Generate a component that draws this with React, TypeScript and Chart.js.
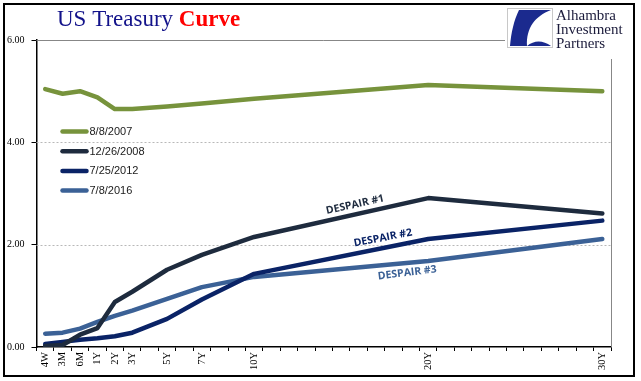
import React, { useEffect, useRef } from "react";
import { Chart, registerables } from "chart.js";

Chart.register(...registerables);

// ---- data ----
const maturities = ["4W", "3M", "6M", "1Y", "2Y", "3Y", "5Y", "7Y", "10Y", "20Y", "30Y"];
const maturitySlot = [0, 1, 2, 3, 4, 5, 7, 9, 12, 22, 32];
const slotCount = 33;

const seriesLabels = ["8/8/2007", "12/26/2008", "7/25/2012", "7/8/2016"];
const curve2007 = [5.04, 4.95, 5.0, 4.88, 4.65, 4.65, 4.7, 4.76, 4.85, 5.12, 5.0];
const curve2008 = [0.02, 0.04, 0.24, 0.37, 0.88, 1.08, 1.51, 1.8, 2.15, 2.91, 2.61];
const curve2012 = [0.06, 0.1, 0.14, 0.17, 0.21, 0.28, 0.55, 0.93, 1.43, 2.11, 2.47];
const curve2016 = [0.26, 0.28, 0.36, 0.49, 0.61, 0.71, 0.94, 1.17, 1.37, 1.68, 2.11];
const seriesColors = ["#77933C", "#1E2B3E", "#0A2366", "#3B6196"];

const yMin = 0;
const yMax = 6;
const yStep = 2;
const dashedGridValues = [2, 4];

const titleMain = "US Treasury ";
const titleAccent = "Curve";
const logoLines = ["Alhambra", "Investment", "Partners"];

const annoTexts = ["DESPAIR #1", "DESPAIR #2", "DESPAIR #3"];
const annoSlot = [17.8, 19.4, 20.8];
const annoValue = [2.78, 2.13, 1.45];
const annoAngle = [-12.5, -11, -7];
const annoSeries = [1, 2, 3];

function buildSeries(values: number[]) {
  const out: (number | null)[] = new Array(slotCount).fill(null);
  values.forEach((v, i) => {
    out[maturitySlot[i]] = v;
  });
  return out;
}

function buildLabels() {
  const out: string[] = new Array(slotCount).fill("");
  maturities.forEach((m, i) => {
    out[maturitySlot[i]] = m;
  });
  return out;
}

const decorPlugin = {
  id: "decor",
  beforeDraw(chart: any) {
    const { ctx, width, height } = chart;
    ctx.save();
    ctx.fillStyle = "#ffffff";
    ctx.fillRect(0, 0, width, height);
    ctx.restore();
  },
  beforeDatasetsDraw(chart: any) {
    const { ctx, chartArea: a, scales } = chart;
    const y = scales.y;
    ctx.save();
    ctx.lineWidth = 1;
    ctx.strokeStyle = "#B8B8B8";
    ctx.setLineDash([2, 2]);
    dashedGridValues.forEach((v) => {
      const py = Math.round(y.getPixelForValue(v)) + 0.5;
      ctx.beginPath();
      ctx.moveTo(a.left, py);
      ctx.lineTo(a.right, py);
      ctx.stroke();
    });
    ctx.setLineDash([]);
    ctx.strokeStyle = "#878787";
    const top = Math.round(y.getPixelForValue(yMax)) + 0.5;
    ctx.beginPath();
    ctx.moveTo(a.left, top);
    ctx.lineTo(a.right, top);
    ctx.stroke();
    ctx.beginPath();
    ctx.moveTo(Math.round(a.right) + 0.5, top);
    ctx.lineTo(Math.round(a.right) + 0.5, a.bottom);
    ctx.stroke();
    ctx.restore();
  },
  afterDraw(chart: any) {
    const { ctx, chartArea: a, scales } = chart;
    const x = scales.x;
    const y = scales.y;
    ctx.save();

    // legend
    ctx.font = '11px "Liberation Sans", Arial, sans-serif';
    ctx.textBaseline = "middle";
    ctx.textAlign = "left";
    seriesLabels.forEach((lab, i) => {
      const ly = a.top + 91.5 + i * 19.7;
      ctx.strokeStyle = seriesColors[i];
      ctx.lineWidth = 4.5;
      ctx.lineCap = "round";
      ctx.beginPath();
      ctx.moveTo(a.left + 26, ly);
      ctx.lineTo(a.left + 50, ly);
      ctx.stroke();
      ctx.fillStyle = "#1a1a1a";
      ctx.fillText(lab, a.left + 53, ly + 0.5);
    });

    // annotations
    ctx.font = 'bold 10.5px "Open Sans", "Liberation Sans", sans-serif';
    ctx.textAlign = "center";
    ctx.textBaseline = "middle";
    annoTexts.forEach((t, i) => {
      const px = x.getPixelForValue(annoSlot[i]);
      const py = y.getPixelForValue(annoValue[i]);
      ctx.save();
      ctx.translate(px, py);
      ctx.rotate((annoAngle[i] * Math.PI) / 180);
      ctx.fillStyle = seriesColors[annoSeries[i]];
      ctx.fillText(t, 0, 0);
      ctx.restore();
    });

    // title
    ctx.textAlign = "left";
    ctx.textBaseline = "alphabetic";
    ctx.font = '23px "Liberation Serif", "Times New Roman", serif';
    ctx.fillStyle = "#12128A";
    ctx.fillText(titleMain, 57, 26);
    const w = ctx.measureText(titleMain).width;
    ctx.font = 'bold 23px "Liberation Serif", "Times New Roman", serif';
    ctx.fillStyle = "#FF0000";
    ctx.fillText(titleAccent, 57 + w, 26);

    // logo
    ctx.fillStyle = "#ffffff";
    ctx.fillRect(505, 5, 127, 54);
    ctx.strokeStyle = "#C8C8C8";
    ctx.lineWidth = 1;
    ctx.strokeRect(507.5, 8.5, 45, 39);
    ctx.fillStyle = "#1B2A8E";
    ctx.beginPath();
    ctx.moveTo(519, 10);
    ctx.lineTo(551, 10);
    ctx.bezierCurveTo(535, 16, 526, 28, 527, 46);
    ctx.lineTo(510, 46);
    ctx.bezierCurveTo(511, 33, 514, 20, 519, 10);
    ctx.closePath();
    ctx.fill();
    ctx.beginPath();
    ctx.moveTo(527, 46);
    ctx.bezierCurveTo(534, 40, 543, 40, 551, 46);
    ctx.closePath();
    ctx.fill();
    ctx.fillStyle = "#1a1a3a";
    ctx.font = '15px "Liberation Serif", "Times New Roman", serif';
    logoLines.forEach((l, i) => {
      ctx.fillText(l, 556, 20 + i * 14);
    });

    // outer frame
    ctx.strokeStyle = "#000000";
    ctx.lineWidth = 2;
    ctx.strokeRect(4, 4, 630, 372);
    ctx.restore();
  },
};

export default function App() {
  const ref = useRef<HTMLCanvasElement | null>(null);
  useEffect(() => {
    if (!ref.current) return;
    const datasets = [curve2007, curve2008, curve2012, curve2016].map((vals, i) => ({
      label: seriesLabels[i],
      data: buildSeries(vals),
      borderColor: seriesColors[i],
      backgroundColor: seriesColors[i],
      borderWidth: 4.5,
      pointRadius: 0,
      tension: 0,
      spanGaps: true,
      borderJoinStyle: "round" as const,
      borderCapStyle: "round" as const,
    }));
    const chart = new Chart(ref.current, {
      type: "line",
      data: { labels: buildLabels(), datasets },
      options: {
        responsive: false,
        animation: false,
        devicePixelRatio: 1,
        layout: { padding: { left: 0, top: 40, right: 30, bottom: 0 } },
        plugins: { legend: { display: false }, tooltip: { enabled: false } },
        scales: {
          x: {
            type: "category",
            offset: true,
            grid: {
              offset: true,
              drawOnChartArea: false,
              drawTicks: true,
              tickLength: 4,
              tickColor: "#000000",
            },
            border: { color: "#000000", width: 1.5 },
            ticks: {
              autoSkip: false,
              maxRotation: 90,
              minRotation: 90,
              padding: 1,
              color: "#000000",
              font: { family: '"Liberation Serif", serif', size: 10.5 },
            },
            afterFit: (s: any) => {
              s.height = 34;
            },
          },
          y: {
            min: yMin,
            max: yMax,
            grid: {
              drawOnChartArea: false,
              drawTicks: true,
              tickLength: 5,
              tickColor: "#000000",
            },
            border: { color: "#000000", width: 1.5 },
            ticks: {
              stepSize: yStep,
              padding: 7,
              color: "#000000",
              font: { family: '"Liberation Serif", serif', size: 10 },
              callback: (v: any) => Number(v).toFixed(2),
            },
            afterFit: (s: any) => {
              s.width = 36.5;
            },
          },
        },
      },
      plugins: [decorPlugin],
    });
    return () => chart.destroy();
  }, []);
  return (
    <div style={{ position: "absolute", left: 0, top: 0, width: 641, height: 381 }}>
      <canvas ref={ref} width={641} height={381} />
    </div>
  );
}
